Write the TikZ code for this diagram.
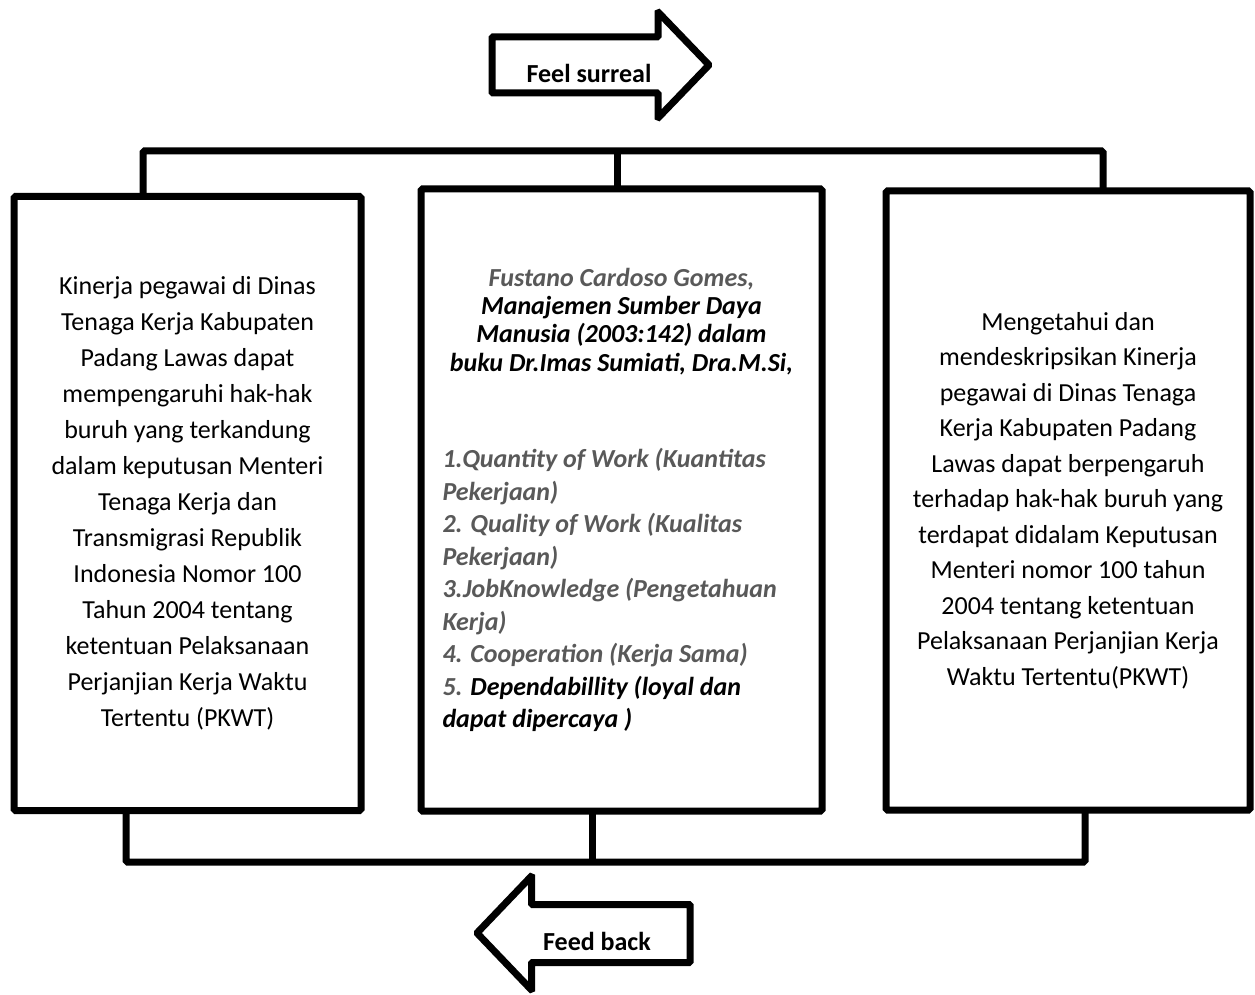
\documentclass[tikz,border=0pt]{standalone}
\usepackage{fontspec}
\setmainfont{Carlito}
\definecolor{txtgray}{RGB}{89,89,89}
\begin{document}
\begin{tikzpicture}[x=1pt,y=-1pt,
  frame/.style={draw, line width=7pt, rounded corners=1.5pt, inner sep=0pt, outer sep=0pt,
    align=center, font=\fontsize{26}{36}\selectfont},
  link/.style={line width=7pt, rounded corners=1.5pt},
  bigarrow/.style={draw, line width=7pt, rounded corners=1pt, line join=miter, fill=white},
  arrowtext/.style={font=\bfseries\fontsize{26}{30}\selectfont, inner sep=0pt}]
\useasboundingbox (0,0) rectangle (1255,995);
\fill[white] (0,0) rectangle (1255,995);

% boxes
\node[frame, minimum width=347pt, minimum height=614pt] (left) at (187.5,503.5) {%
Kinerja pegawai di Dinas\\
Tenaga Kerja Kabupaten\\
Padang Lawas dapat\\
mempengaruhi hak-hak\\
buruh yang terkandung\\
dalam keputusan Menteri\\
Tenaga Kerja dan\\
Transmigrasi Republik\\
Indonesia Nomor 100\\
Tahun 2004 tentang\\
ketentuan Pelaksanaan\\
Perjanjian Kerja Waktu\\
Tertentu (PKWT)};

\node[frame, minimum width=401pt, minimum height=622pt] (mid) at (621.5,500) {%
\begin{minipage}{358pt}
\fontsize{26}{28.3}\selectfont\bfseries\itshape\centering
{\color{txtgray}Fustano Cardoso Gomes,}\\
Manajemen Sumber Daya\\
Manusia (2003:142) dalam\\
buku Dr.Imas Sumiati, Dra.M.Si,\par
\vspace{64pt}
\raggedright\fontsize{26}{32.5}\selectfont
{\color{txtgray}1.Quantity of Work (Kuantitas\\
Pekerjaan)\\
2. Quality of Work (Kualitas\\
Pekerjaan)\\
3.JobKnowledge (Pengetahuan\\
Kerja)\\
4. Cooperation (Kerja Sama)\\
5. }Dependabillity (loyal dan\\
dapat dipercaya )\par
\end{minipage}};

\node[frame, minimum width=364pt, minimum height=619pt,
  font=\fontsize{26}{35.5}\selectfont] (right) at (1068,500.5) {%
Mengetahui dan\\
mendeskripsikan Kinerja\\
pegawai di Dinas Tenaga\\
Kerja Kabupaten Padang\\
Lawas dapat berpengaruh\\
terhadap hak-hak buruh yang\\
terdapat didalam Keputusan\\
Menteri nomor 100 tahun\\
2004 tentang ketentuan\\
Pelaksanaan Perjanjian Kerja\\
Waktu Tertentu(PKWT)};

% top bracket
\coordinate (tl) at (143,151);
\coordinate (tm) at (617,151);
\coordinate (tr) at (1103,151);
\draw[link] (left.north -| tl) -- (tl) -- (tr) -- (right.north -| tr);
\draw[link] (tm) -- (mid.north -| tm);

% bottom bracket
\coordinate (bl) at (126,862);
\coordinate (bm) at (592,862);
\coordinate (br) at (1085,862);
\draw[link] (left.south -| bl) -- (bl) -- (br) -- (right.south -| br);
\draw[link] (mid.south -| bm) -- (bm);

% arrows
\draw[bigarrow] (492,37) -- (658,37) -- (658,12) -- (709,65) -- (658,118) -- (658,93) -- (492,93) -- cycle;
\node[arrowtext] (feel) at (589,73) {Feel surreal};

\draw[bigarrow] (690,904.5) -- (531.5,904.5) -- (531.5,876) -- (477,933) -- (531.5,990) -- (531.5,962.5) -- (690,962.5) -- cycle;
\node[arrowtext] (feed) at (597,941) {Feed back};
\end{tikzpicture}
\end{document}
